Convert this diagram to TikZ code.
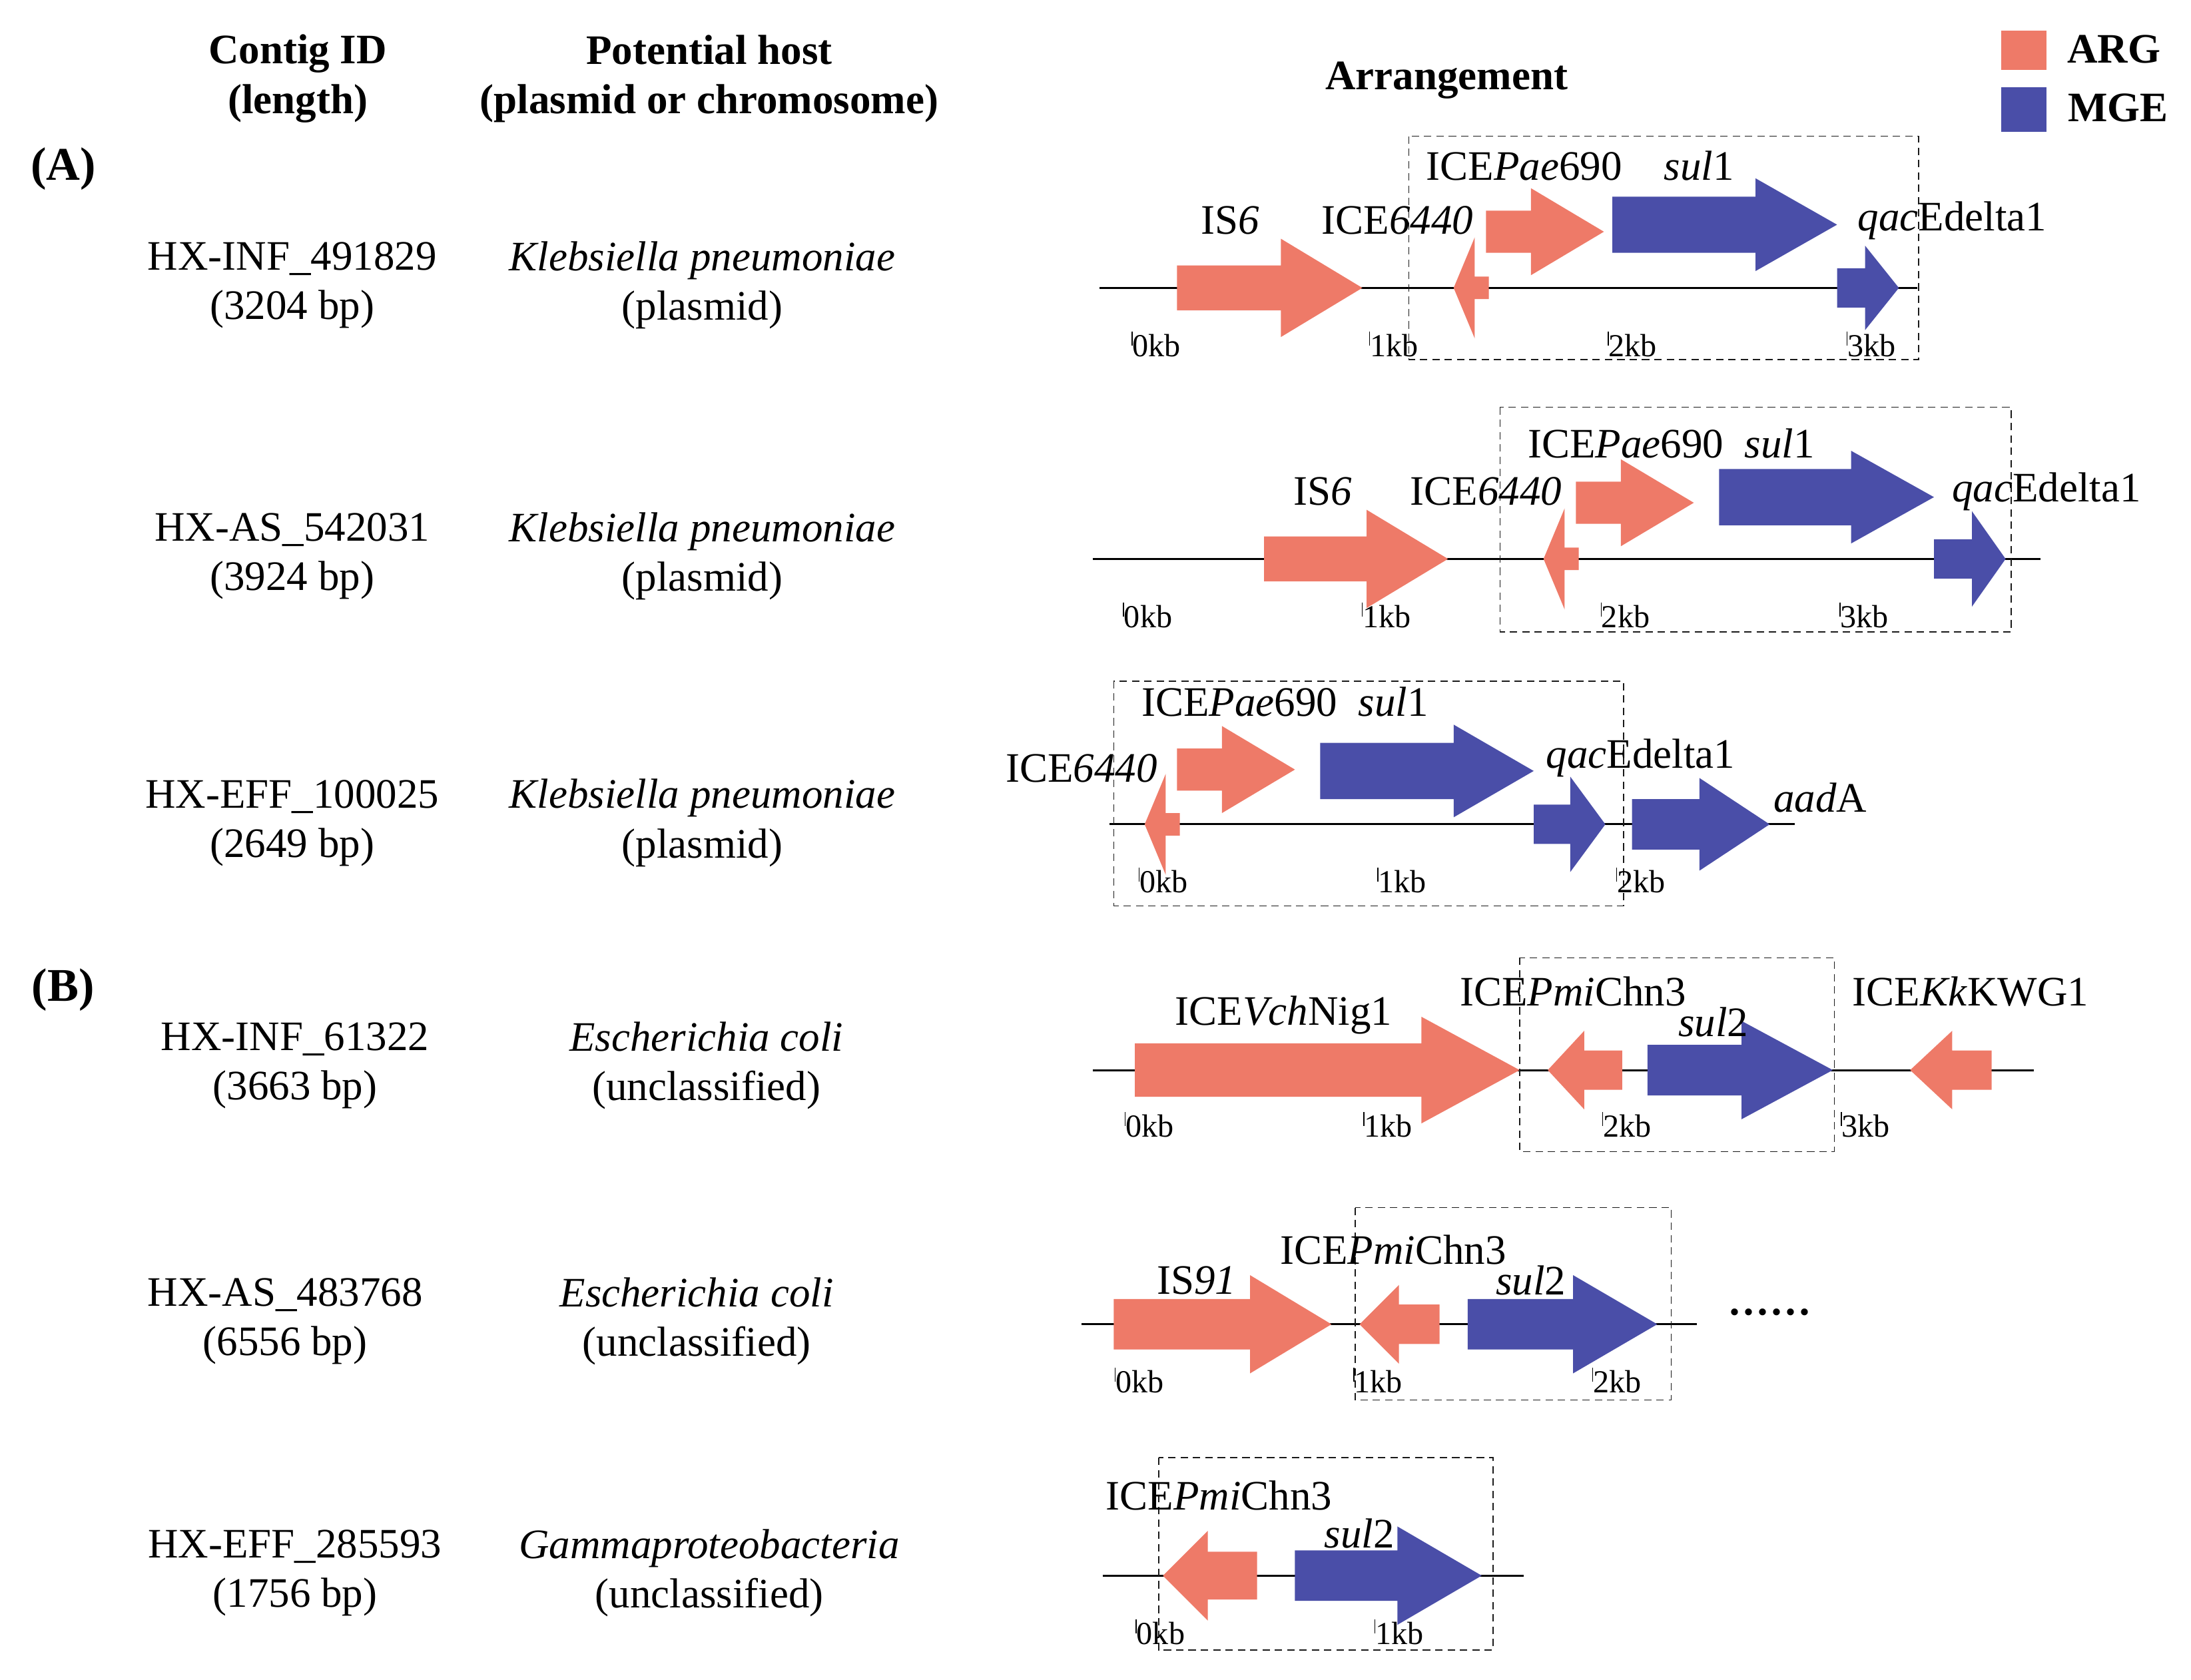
\documentclass[tikz,border=0pt]{standalone}
\usepackage{fontspec}
\setmainfont{Liberation Serif}
\definecolor{arg}{HTML}{EE7A68}
\definecolor{mge}{HTML}{4A4EA8}
\newcommand\gene[7]{\fill[#7] (#1,#4-#5)--(#3,#4-#5)--(#3,#4-#6)--(#2,#4)--(#3,#4+#6)--(#3,#4+#5)--(#1,#4+#5)--cycle;}
\newcommand\tk[3]{\draw[thin] (#1,#2-5)--(#1,#2+5) node[right=-2pt,font=\fontsize{13}{14}\selectfont,inner sep=2pt] {#3};}
\begin{document}
\begin{tikzpicture}[x=0.02cm,y=-0.02cm,
 t/.style={font=\fontsize{17}{20}\selectfont,inner sep=0,align=center},
 h/.style={font=\fontsize{17}{20}\selectfont\bfseries,inner sep=0,align=center},
 box/.style={densely dashed,thin,gray!20!black}]
\useasboundingbox (0,0) rectangle (1560,1196);
% headers
\node[h] (c) at (212,56) {Contig ID\\(length)};
\node[h] (p) at (505,56) {Potential host\\(plasmid or chromosome)};
\node[h] (ar) at (1030,57) {Arrangement};
\node[h,font=\fontsize{19}{22}\selectfont\bfseries] (A) at (45,120) {(A)};
\node[h,font=\fontsize{19}{22}\selectfont\bfseries] (B) at (45,705) {(B)};
\fill[arg] (1425,22) rectangle (1457,50); \node[h] (l1) at (1505,35) {ARG};
\fill[mge] (1425,62) rectangle (1457,94); \node[h] (l2) at (1508,77) {MGE};
% left columns
\node[t] (c1) at (208,203) {HX-INF\_491829\\(3204 bp)};
\node[t] (h1) at (500,203) {\textit{Klebsiella pneumoniae}\\(plasmid)};
\node[t] (c2) at (208,396) {HX-AS\_542031\\(3924 bp)};
\node[t] (h2) at (500,396) {\textit{Klebsiella pneumoniae}\\(plasmid)};
\node[t] (c3) at (208,586) {HX-EFF\_100025\\(2649 bp)};
\node[t] (h3) at (500,586) {\textit{Klebsiella pneumoniae}\\(plasmid)};
\node[t] (c4) at (210,759) {HX-INF\_61322\\(3663 bp)};
\node[t] (h4) at (503,759) {\textit{Escherichia coli}\\(unclassified)};
\node[t] (c5) at (203,941) {HX-AS\_483768\\(6556 bp)};
\node[t] (h5) at (496,941) {\textit{Escherichia coli}\\(unclassified)};
\node[t] (c6) at (210,1120) {HX-EFF\_285593\\(1756 bp)};
\node[t] (h6) at (505,1120) {\textit{Gammaproteobacteria}\\(unclassified)};
% Row 1
\draw[thick] (783,205)--(1365,205);
\gene{838}{970}{912}{205}{16}{35}{arg}
\gene{1060}{1035}{1050}{205}{8}{36}{arg}
\gene{1058}{1142}{1090}{165}{15}{31}{arg}
\gene{1148}{1308}{1250}{160}{20}{33}{mge}
\gene{1308}{1352}{1328}{205}{14}{30}{mge}
\draw[box] (1003,97) rectangle (1366,256);
\tk{806}{241}{0kb}\tk{975}{241}{1kb}\tk{1145}{241}{2kb}\tk{1315}{241}{3kb}
\node[t] (a1) at (876,157) {IS\textit{6}};
\node[t] (a2) at (995,157) {ICE\textit{6440}};
\node[t] (a3) at (1125,118) {ICE\textit{Pae}690\quad\textit{sul}1};
\node[t] (a4) at (1390,157) {\textit{qac}Edelta1};
% Row 2
\draw[thick] (778,398)--(1453,398);
\gene{900}{1031}{973}{398}{16}{35}{arg}
\gene{1124}{1099}{1114}{398}{8}{36}{arg}
\gene{1122}{1206}{1154}{358}{15}{31}{arg}
\gene{1224}{1377}{1318}{354}{20}{33}{mge}
\gene{1377}{1428}{1404}{398}{14}{34}{mge}
\draw[box] (1068,290) rectangle (1432,450);
\tk{800}{434}{0kb}\tk{970}{434}{1kb}\tk{1140}{434}{2kb}\tk{1310}{434}{3kb}
\node[t] (b1) at (942,350) {IS\textit{6}};
\node[t] (b2) at (1058,350) {ICE\textit{6440}};
\node[t] (b3) at (1190,316) {ICE\textit{Pae}690\enspace\textit{sul}1};
\node[t] (b4) at (1457,350) {\textit{qac}Edelta1};
% Row 3
\draw[thick] (790,587)--(1278,587);
\gene{840}{815}{830}{587}{8}{36}{arg}
\gene{838}{922}{870}{548}{15}{31}{arg}
\gene{940}{1092}{1035}{549}{20}{33}{mge}
\gene{1092}{1143}{1118}{587}{14}{34}{mge}
\gene{1162}{1260}{1210}{587}{18}{33}{mge}
\draw[box] (793,485) rectangle (1156,645);
\tk{811}{623}{0kb}\tk{981}{623}{1kb}\tk{1151}{623}{2kb}
\node[t] (d1) at (770,547) {ICE\textit{6440}};
\node[t] (d2) at (915,500) {ICE\textit{Pae}690\enspace\textit{sul}1};
\node[t] (d3) at (1168,540) {\textit{qac}Edelta1};
\node[t] (d4) at (1296,568) {\textit{aad}A};
% Row 4
\draw[thick] (778,762)--(1448,762);
\gene{808}{1082}{1012}{762}{19}{38}{arg}
\gene{1155}{1102}{1128}{762}{14}{28}{arg}
\gene{1173}{1305}{1240}{762}{18}{35}{mge}
\gene{1418}{1360}{1390}{762}{14}{28}{arg}
\draw[box] (1082,682) rectangle (1306,820);
\tk{801}{797}{0kb}\tk{971}{797}{1kb}\tk{1141}{797}{2kb}\tk{1311}{797}{3kb}
\node[t] (e1) at (914,723) {ICE\textit{Vch}Nig1};
\node[t] (e2) at (1120,706) {ICE\textit{Pmi}Chn3};
\node[t] (e3) at (1220,728) {\textit{sul}2};
\node[t] (e4) at (1403,706) {ICE\textit{Kk}KWG1};
% Row 5
\draw[thick] (770,943)--(1208,943);
\gene{793}{948}{890}{943}{18}{35}{arg}
\gene{1025}{968}{996}{943}{14}{28}{arg}
\gene{1045}{1180}{1120}{943}{18}{35}{mge}
\draw[box] (965,860) rectangle (1190,997);
\tk{794}{979}{0kb}\tk{964}{979}{1kb}\tk{1134}{979}{2kb}
\node[t] (f1) at (852,912) {IS\textit{91}};
\node[t] (f2) at (992,890) {ICE\textit{Pmi}Chn3};
\node[t] (f3) at (1090,912) {\textit{sul}2};
\node[t] (f4) at (1260,938) {\textbf{\textperiodcentered\textperiodcentered\textperiodcentered\textperiodcentered\textperiodcentered\textperiodcentered}};
% Row 6
\draw[thick] (785,1122)--(1085,1122);
\gene{895}{828}{860}{1122}{17}{32}{arg}
\gene{922}{1055}{995}{1122}{18}{35}{mge}
\draw[box] (825,1038) rectangle (1063,1175);
\tk{809}{1158}{0kb}\tk{979}{1158}{1kb}
\node[t] (g1) at (868,1065) {ICE\textit{Pmi}Chn3};
\node[t] (g2) at (968,1092) {\textit{sul}2};
\end{tikzpicture}
\end{document}
